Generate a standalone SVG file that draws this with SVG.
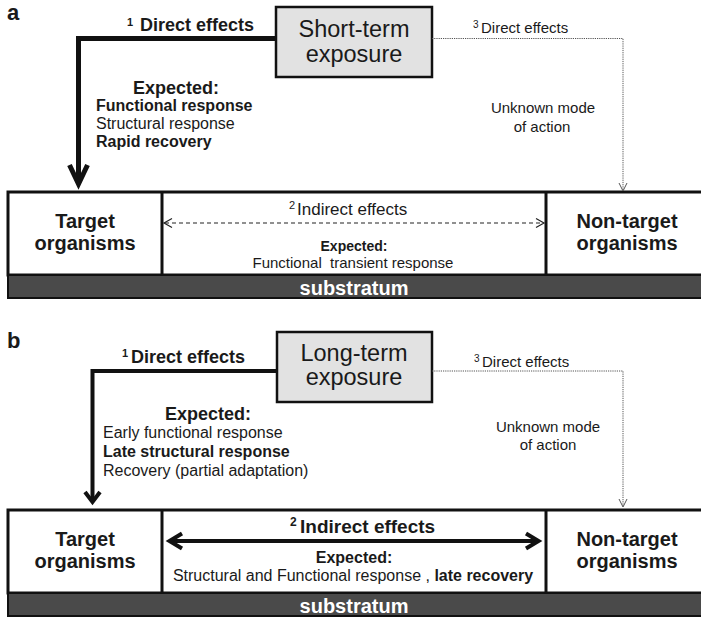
<svg xmlns="http://www.w3.org/2000/svg" width="701" height="617" viewBox="0 0 701 617">
<style>
text{font-family:"Liberation Sans",Arial,Helvetica,sans-serif;fill:#1a1a1a}
.b{font-weight:bold}
.lbl{font-weight:bold;font-size:22px}
.exp{font-size:23.5px;text-anchor:middle}
.expo{fill:#e2e2e2;stroke:#111;stroke-width:2.5}
.org{font-weight:bold;font-size:20px;text-anchor:middle}
.box{fill:#fff;stroke:#111;stroke-width:3}
.sub{fill:#4a4a4a;stroke:#111;stroke-width:2}
.subt{font-weight:bold;font-size:20px;fill:#fff;text-anchor:middle}
.mid{text-anchor:middle}
.thick{fill:none;stroke:#111;stroke-linejoin:miter;stroke-miterlimit:6}
.dot{fill:none;stroke:#555;stroke-width:1;stroke-dasharray:1.2 1}
.dothead{fill:none;stroke:#555;stroke-width:1}
.dash{fill:none;stroke:#222;stroke-width:1.2;stroke-dasharray:4 3}
.dashhead{fill:none;stroke:#222;stroke-width:1.2}
</style>

<!-- Panel a -->
<text class="lbl" x="7" y="20">a</text>

<g id="shortterm">
<rect class="expo" x="276" y="7" width="156" height="70"/>
<text class="exp" x="354" y="37">Short-term</text>
<text class="exp" x="354" y="62">exposure</text>
</g>

<g id="a-bottom">
<rect class="box" x="8" y="192" width="700" height="83"/>
<line x1="162" y1="192" x2="162" y2="275" stroke="#111" stroke-width="3"/>
<line x1="546" y1="192" x2="546" y2="275" stroke="#111" stroke-width="3"/>
<rect class="sub" x="8" y="275" width="700" height="23"/>
<text class="subt" x="354" y="295">substratum</text>
</g>

<g id="a-target">
<text class="org" x="85" y="228">Target</text>
<text class="org" x="85" y="250">organisms</text>
</g>
<g id="a-nontarget">
<text class="org" x="627" y="228">Non-target</text>
<text class="org" x="627" y="250">organisms</text>
</g>

<g id="a-connectors">
<path class="thick" stroke-width="5" d="M276,38.5 H78.5 V182"/>
<polyline class="thick" stroke-width="5" points="69.5,165 78.5,184 87.5,165"/>
<path class="dot" d="M432,38.5 H623 V190"/>
<polyline class="dothead" points="619,183 623,191 627,183"/>
<line class="dash" x1="165" y1="223" x2="543" y2="223"/>
<polyline class="dashhead" points="172,218.5 164,223 172,227.5"/>
<polyline class="dashhead" points="536,218.5 544,223 536,227.5"/>
</g>

<g id="a-labels">
<text class="b" y="31"><tspan x="127" y="26" font-size="11">1</tspan><tspan x="140" y="31" font-size="18">Direct effects</tspan></text>
<text class="b mid" x="176" y="94" font-size="18">Expected:</text>
<text class="b" x="96" y="111" font-size="16">Functional response</text>
<text x="96" y="128.5" font-size="16">Structural response</text>
<text class="b" x="96" y="146.5" font-size="16">Rapid recovery</text>
<text font-size="15"><tspan x="473" y="28" font-size="10">3</tspan><tspan x="481" y="33">Direct effects</tspan></text>
<text class="mid" x="543" y="113" font-size="15">Unknown mode</text>
<text class="mid" x="542" y="132" font-size="15">of action</text>
<text font-size="17"><tspan x="289" y="209" font-size="11">2</tspan><tspan x="297" y="215">Indirect effects</tspan></text>
<text class="b mid" x="354" y="251" font-size="14">Expected:</text>
<text class="mid" x="353" y="268" font-size="15" xml:space="preserve">Functional  transient response</text>
</g>

<!-- Panel b -->
<text class="lbl" x="7" y="348">b</text>

<g id="longterm">
<rect class="expo" x="277" y="332" width="155" height="70"/>
<text class="exp" x="354" y="361">Long-term</text>
<text class="exp" x="354" y="385">exposure</text>
</g>

<g id="b-bottom">
<rect class="box" x="8" y="510" width="700" height="83"/>
<line x1="162" y1="510" x2="162" y2="593" stroke="#111" stroke-width="3"/>
<line x1="546" y1="510" x2="546" y2="593" stroke="#111" stroke-width="3"/>
<rect class="sub" x="8" y="593" width="700" height="23"/>
<text class="subt" x="354" y="613">substratum</text>
</g>

<g id="b-target">
<text class="org" x="85" y="546">Target</text>
<text class="org" x="85" y="568">organisms</text>
</g>
<g id="b-nontarget">
<text class="org" x="627" y="546">Non-target</text>
<text class="org" x="627" y="568">organisms</text>
</g>

<g id="b-connectors">
<path class="thick" stroke-width="4" d="M277,371 H92.5 V500"/>
<polyline class="thick" stroke-width="4" points="85,492 92.5,502 100,492"/>
<path class="dot" d="M432,371 H623 V506"/>
<polyline class="dothead" points="619,499 623,507 627,499"/>
<line x1="171" y1="541" x2="537" y2="541" stroke="#111" stroke-width="4"/>
<polyline class="thick" stroke-width="4" points="182,533.5 169.5,541 182,548.5"/>
<polyline class="thick" stroke-width="4" points="526,533.5 538.5,541 526,548.5"/>
</g>

<g id="b-labels">
<text class="b" y="363"><tspan x="122" y="357" font-size="11">1</tspan><tspan x="131" y="363" font-size="18">Direct effects</tspan></text>
<text class="b mid" x="208" y="420" font-size="18">Expected:</text>
<text x="103" y="438" font-size="16">Early functional response</text>
<text class="b" x="103" y="456.5" font-size="16">Late structural response</text>
<text x="103" y="475.5" font-size="16">Recovery (partial adaptation)</text>
<text font-size="15"><tspan x="474" y="362" font-size="10">3</tspan><tspan x="482" y="367">Direct effects</tspan></text>
<text class="mid" x="548" y="432" font-size="15">Unknown mode</text>
<text class="mid" x="548" y="450" font-size="15">of action</text>
<text class="b" font-size="19"><tspan x="290" y="526" font-size="12">2</tspan><tspan x="300" y="533">Indirect effects</tspan></text>
<text class="b mid" x="354" y="563" font-size="16">Expected:</text>
<text class="mid" x="353" y="581" font-size="16">Structural and Functional response , <tspan class="b">late recovery</tspan></text>
</g>
</svg>
